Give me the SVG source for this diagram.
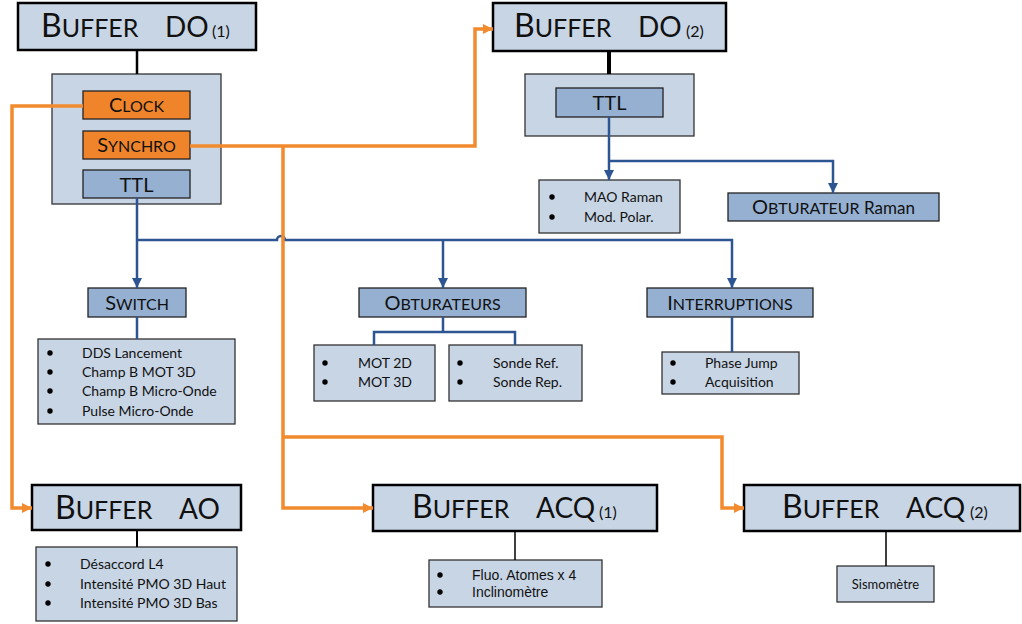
<svg xmlns="http://www.w3.org/2000/svg" width="1022" height="624" viewBox="0 0 1022 624">
<defs>
<style>
.buf{fill:#c8d5e5;stroke:#000;stroke-width:2.5}
.cont{fill:#c8d5e5;stroke:#333;stroke-width:1.3}
.mid{fill:#95b0d1;stroke:#222;stroke-width:1.3}
.org{fill:#f0842a;stroke:#222;stroke-width:1.3}
.lst{fill:#c8d5e5;stroke:#333;stroke-width:1.3}
.t{font-family:Lato,"Liberation Sans",sans-serif;fill:#111}
.title{font-size:32px}
.sc{font-size:25px}
.t2{font-size:28px}
.par{font-size:16px}
.lab{font-size:20px}
.lsc{font-size:16px}
.li{font-size:14px}
.ar{font-family:"Liberation Sans",Arial,sans-serif;font-size:14px;fill:#111}
.bl{fill:#000}
.ol{fill:none;stroke:#f28a2e;stroke-width:3.5}
.bline{fill:none;stroke:#2d5592;stroke-width:2.5}
.kl{fill:none;stroke:#000}
</style>
<marker id="ba" viewBox="0 0 10 10" refX="10" refY="5" markerWidth="12" markerHeight="10" markerUnits="userSpaceOnUse" orient="auto"><path d="M0,0 L10,5 L0,10 z" fill="#2d5592"/></marker>
<marker id="oa" viewBox="0 0 10 10" refX="10" refY="5" markerWidth="10" markerHeight="12" markerUnits="userSpaceOnUse" orient="auto"><path d="M0,0 L10,5 L0,10 z" fill="#f28a2e"/></marker>
</defs>
<rect width="1022" height="624" fill="#fff"/>

<g id="buffer-do1">
<rect class="buf" x="18" y="3" width="238" height="47"/>
<text class="t" y="37"><tspan x="41" class="title">B</tspan><tspan class="sc">UFFER</tspan><tspan x="165" class="t2">DO</tspan><tspan x="212" class="par">(1)</tspan></text>
</g>

<g id="do1-outputs">
<rect class="cont" x="52" y="74" width="169" height="130"/>
</g>
<g id="clock">
<rect class="org" x="83" y="91" width="107" height="28"/>
<text class="t" x="136.5" y="112" text-anchor="middle"><tspan class="lab">C</tspan><tspan class="lsc">LOCK</tspan></text>
</g>
<g id="synchro">
<rect class="org" x="83" y="131" width="107" height="28"/>
<text class="t" x="136.5" y="152" text-anchor="middle"><tspan class="lab">S</tspan><tspan class="lsc">YNCHRO</tspan></text>
</g>
<g id="ttl1">
<rect class="mid" x="83" y="170" width="107" height="28"/>
<text class="t lab" x="136.5" y="192" text-anchor="middle">TTL</text>
</g>

<g id="buffer-do2">
<rect class="buf" x="493" y="3" width="233" height="48"/>
<text class="t" y="37"><tspan x="514" class="title">B</tspan><tspan class="sc">UFFER</tspan><tspan x="638" class="t2">DO</tspan><tspan x="686" class="par">(2)</tspan></text>
</g>
<g id="do2-outputs">
<rect class="cont" x="525" y="74" width="169" height="62"/>
</g>
<g id="ttl2">
<rect class="mid" x="556" y="88" width="107" height="29"/>
<text class="t lab" x="609.5" y="110" text-anchor="middle">TTL</text>
</g>
<g id="do2-list">
<rect class="lst" x="539" y="180" width="141" height="53"/>
<circle class="bl" cx="552" cy="197" r="2.7"/><circle class="bl" cx="552" cy="217" r="2.7"/>
<text class="t li" x="584" y="202">MAO Raman</text>
<text class="t li" x="584" y="222">Mod. Polar.</text>
</g>
<g id="obturateur-raman">
<rect class="mid" x="728" y="193" width="211" height="28"/>
<text class="t" x="833.5" y="214" text-anchor="middle"><tspan class="lab">O</tspan><tspan class="lsc">BTURATEUR</tspan><tspan font-size="17px"> Raman</tspan></text>
</g>

<g id="switch">
<rect class="mid" x="88" y="288" width="98" height="29"/>
<text class="t" x="137" y="310" text-anchor="middle"><tspan class="lab">S</tspan><tspan class="lsc">WITCH</tspan></text>
</g>
<g id="switch-list">
<rect class="lst" x="38" y="339" width="197" height="85"/>
<circle class="bl" cx="50" cy="353" r="2.7"/><circle class="bl" cx="50" cy="372" r="2.7"/><circle class="bl" cx="50" cy="391" r="2.7"/><circle class="bl" cx="50" cy="411" r="2.7"/>
<text class="t li" x="82" y="358">DDS Lancement</text>
<text class="t li" x="82" y="377">Champ B MOT 3D</text>
<text class="t li" x="82" y="396">Champ B Micro-Onde</text>
<text class="t li" x="82" y="416">Pulse Micro-Onde</text>
</g>

<g id="obturateurs">
<rect class="mid" x="359" y="288" width="167" height="29"/>
<text class="t" x="442.5" y="310" text-anchor="middle"><tspan class="lab">O</tspan><tspan class="lsc">BTURATEURS</tspan></text>
</g>
<g id="mot-list">
<rect class="lst" x="314" y="345" width="121" height="56"/>
<circle class="bl" cx="325" cy="363" r="2.7"/><circle class="bl" cx="325" cy="382" r="2.7"/>
<text class="t li" x="358" y="368">MOT 2D</text>
<text class="t li" x="358" y="387">MOT 3D</text>
</g>
<g id="sonde-list">
<rect class="lst" x="449" y="345" width="133" height="56"/>
<circle class="bl" cx="460" cy="363" r="2.7"/><circle class="bl" cx="460" cy="382" r="2.7"/>
<text class="t li" x="493" y="368">Sonde Ref.</text>
<text class="t li" x="493" y="387">Sonde Rep.</text>
</g>

<g id="interruptions">
<rect class="mid" x="647" y="288" width="166" height="29"/>
<text class="t" x="730" y="310" text-anchor="middle"><tspan class="lab">I</tspan><tspan class="lsc">NTERRUPTIONS</tspan></text>
</g>
<g id="interruptions-list">
<rect class="lst" x="662" y="352" width="137" height="42"/>
<circle class="bl" cx="673" cy="363" r="2.7"/><circle class="bl" cx="673" cy="382" r="2.7"/>
<text class="t li" x="705" y="368">Phase Jump</text>
<text class="t li" x="705" y="387">Acquisition</text>
</g>

<g id="buffer-ao">
<rect class="buf" x="32" y="485" width="209" height="45"/>
<text class="t" y="519"><tspan x="55" class="title">B</tspan><tspan class="sc">UFFER</tspan><tspan x="179" class="t2">AO</tspan></text>
</g>
<g id="ao-list">
<rect class="lst" x="36" y="547" width="201" height="74"/>
<circle class="bl" cx="48" cy="564" r="2.7"/><circle class="bl" cx="48" cy="584" r="2.7"/><circle class="bl" cx="48" cy="603" r="2.7"/>
<text class="t li" x="80" y="569">Désaccord L4</text>
<text class="t li" x="80" y="589">Intensité PMO 3D Haut</text>
<text class="t li" x="80" y="608">Intensité PMO 3D Bas</text>
</g>

<g id="buffer-acq1">
<rect class="buf" x="373" y="485" width="284" height="46"/>
<text class="t" y="518"><tspan x="412" class="title">B</tspan><tspan class="sc">UFFER</tspan><tspan x="536" class="t2">ACQ</tspan><tspan x="599" class="par">(1)</tspan></text>
</g>
<g id="acq1-list">
<rect class="lst" x="429" y="560" width="173" height="47"/>
<circle class="bl" cx="440" cy="575" r="2.7"/><circle class="bl" cx="440" cy="592" r="2.7"/>
<text class="ar" x="472" y="580">Fluo. Atomes x 4</text>
<text class="ar" x="472" y="597">Inclinomètre</text>
</g>

<g id="buffer-acq2">
<rect class="buf" x="744" y="485" width="276" height="46"/>
<text class="t" y="518"><tspan x="782" class="title">B</tspan><tspan class="sc">UFFER</tspan><tspan x="906" class="t2">ACQ</tspan><tspan x="970" class="par">(2)</tspan></text>
</g>
<g id="sismometre">
<rect class="lst" x="837" y="566" width="97" height="36"/>
<text class="t" x="885.5" y="589" text-anchor="middle" font-size="13">Sismomètre</text>
</g>

<g id="connectors">
<path class="kl" stroke-width="2.5" d="M137,50 V74"/>
<path class="kl" stroke-width="4" d="M609,51 V74"/>
<path class="kl" stroke-width="2" d="M137,530 V547"/>
<path class="kl" stroke-width="1.5" d="M515,531 V560"/>
<path class="kl" stroke-width="1.5" d="M886,531 V566"/>
<path class="bline" d="M137,198 V288" marker-end="url(#ba)"/>
<path class="bline" d="M137,240 H277 a4,4 0 0 1 8,0 H732 V288" marker-end="url(#ba)"/>
<path class="bline" d="M443,240 V288" marker-end="url(#ba)"/>
<path class="bline" d="M137,317 V339"/>
<path class="bline" d="M443,317 V332 M374,345 V332 H515 V345"/>
<path class="bline" d="M732,317 V352"/>
<path class="bline" d="M609,117 V180" marker-end="url(#ba)"/>
<path class="bline" d="M609,161 H833 V193" marker-end="url(#ba)"/>
<path class="ol" d="M83,106 H12 V508 H32" marker-end="url(#oa)"/>
<path class="ol" d="M190,146 H475 V29 H493" marker-end="url(#oa)"/>
<path class="ol" d="M283,146 V508 H373" marker-end="url(#oa)"/>
<path class="ol" d="M283,437 H722 V508 H744" marker-end="url(#oa)"/>
</g>
</svg>
